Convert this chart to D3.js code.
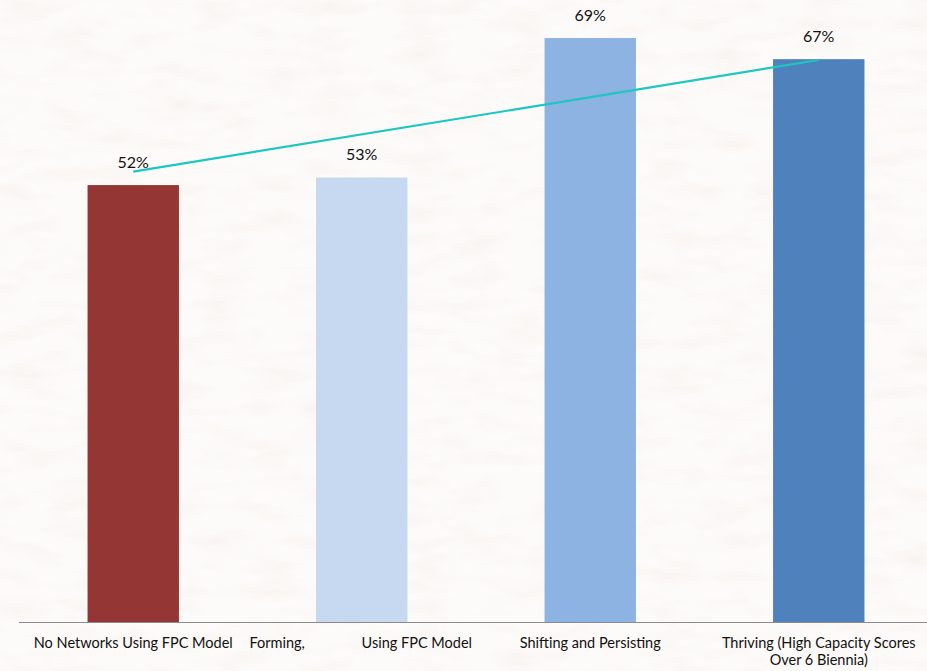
<!DOCTYPE html>
<html>
<head>
<meta charset="utf-8">
<script src="https://cdn.jsdelivr.net/npm/d3@7"></script>
<style>
  html, body { margin: 0; padding: 0; background: #fbf8f5; }
  svg { display: block; }
  text { font-family: Lato, "Open Sans", sans-serif; fill: #111; }
</style>
</head>
<body>
<svg id="chart" width="927" height="671"></svg>
<script>
const categories = ["No Networks Using FPC Model", "Forming, Using FPC Model", "Shifting and Persisting", "Thriving (High Capacity Scores Over 6 Biennia)"];
const values = [51.7, 52.6, 69.1, 66.6];
const barColors = ["#943634", "#c6d9f1", "#8db3e2", "#4f81bd"];
// trend line runs from the first to the last category
const trendCats = [categories[0], categories[3]];
const trendValues = [53.3, 66.5];
// how each axis label is laid out (lines / justified pieces)
const labelLines = [
  ["No Networks Using FPC Model"],
  ["Forming,", "Using FPC Model"],
  ["Shifting and Persisting"],
  ["Thriving (High Capacity Scores", "Over 6 Biennia)"]
];

const svg = d3.select("#chart");
const W = 927, H = 671;
const baseY = 622;

// textured paper background
const defs = svg.append("defs");
const f = defs.append("filter").attr("id", "paper").attr("x", 0).attr("y", 0).attr("width", "100%").attr("height", "100%");
f.append("feTurbulence").attr("type", "fractalNoise").attr("baseFrequency", "0.02 0.06").attr("numOctaves", 3).attr("seed", 4).attr("result", "n");
f.append("feColorMatrix").attr("in", "n").attr("type", "matrix")
  .attr("values", "0 0 0 0 0.6  0 0 0 0 0.5  0 0 0 0 0.47  0 0 0 -2.2 1.25");
svg.append("rect").attr("width", W).attr("height", H).attr("fill", "#fdfbf9");
svg.append("rect").attr("width", W).attr("height", H).attr("filter", "url(#paper)").attr("opacity", 0.1);

const x = d3.scaleBand().domain(categories).range([19, 933]).paddingInner(0.6).paddingOuter(0.3);
const y = d3.scaleLinear().domain([0, 73.6]).range([baseY, 0]);
const step = x.step();
const cx = c => x(c) + x.bandwidth() / 2;

const g = svg.append("g");

g.selectAll("rect.bar").data(categories).join("rect")
  .attr("class", "bar")
  .attr("x", d => x(d))
  .attr("width", x.bandwidth())
  .attr("y", (d, i) => y(values[i]))
  .attr("height", (d, i) => baseY - y(values[i]))
  .attr("fill", (d, i) => barColors[i]);

// x axis line
g.append("line").attr("x1", 19).attr("x2", W).attr("y1", baseY + 0.5).attr("y2", baseY + 0.5)
  .attr("stroke", "#8c8c8c").attr("stroke-width", 1.2);

// value labels
g.selectAll("text.val").data(categories).join("text")
  .attr("class", "val")
  .attr("x", d => cx(d))
  .attr("y", (d, i) => y(values[i]) - 17)
  .attr("text-anchor", "middle")
  .style("font-size", "16px")
  .text((d, i) => Math.round(values[i]) + "%");

// trend line
const line = d3.line().x(d => cx(d[0])).y(d => y(d[1]));
g.append("path")
  .datum(trendCats.map((c, i) => [c, trendValues[i]]))
  .attr("d", line)
  .attr("fill", "none")
  .attr("stroke", "#1cc7c2")
  .attr("stroke-width", 2.2);

// category labels
categories.forEach((c, i) => {
  const lines = labelLines[i];
  if (i === 1) {
    // justified across the category slot
    g.append("text").attr("x", cx(c) - step / 2 + 2).attr("y", 648)
      .attr("text-anchor", "start").style("font-size", "14.5px").text(lines[0]);
    g.append("text").attr("x", cx(c) + step / 2 - 4).attr("y", 648)
      .attr("text-anchor", "end").style("font-size", "14.5px").text(lines[1]);
  } else {
    lines.forEach((l, j) => {
      g.append("text").attr("x", cx(c)).attr("y", 648 + j * 17)
        .attr("text-anchor", "middle").style("font-size", "14.5px").text(l);
    });
  }
});
</script>
</body>
</html>
